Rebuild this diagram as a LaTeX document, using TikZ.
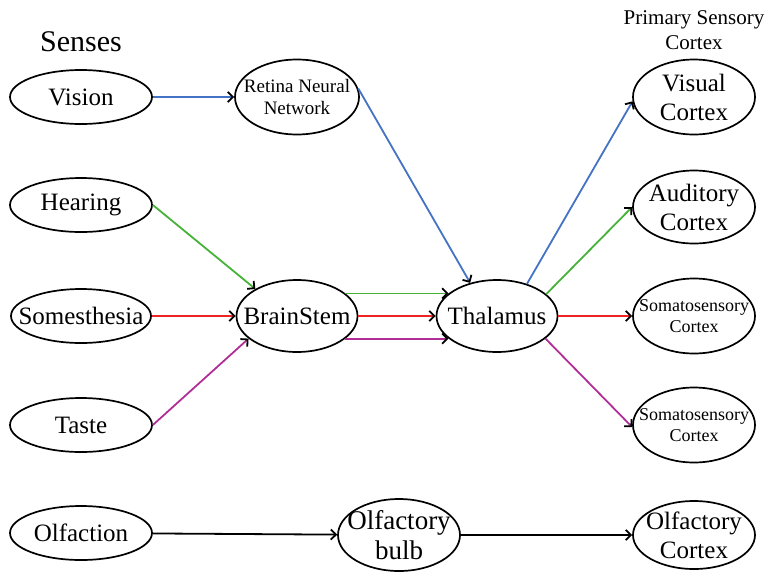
\documentclass[tikz,border=0pt]{standalone}
\usepackage{fontspec}
\setmainfont{Liberation Serif}
\usetikzlibrary{
	shapes.geometric,
	arrows.meta
}
\definecolor{pathblue}{RGB}{68,114,196}
\definecolor{pathgreen}{RGB}{70,178,56}
\definecolor{pathred}{RGB}{238,36,36}
\definecolor{pathpurple}{RGB}{176,46,150}
\tikzset{
	area/.style={
		ellipse, draw, line width=1.7pt, inner sep=-20pt, align=center,
		minimum width=122, minimum height=73,
		font=\fontsize{25}{29}\selectfont
	},
	sense/.style={
		area, minimum width=142, minimum height=54
	},
	small area/.style={
		area, font=\fontsize{19}{22}\selectfont
	},
	tiny area/.style={
		area, font=\fontsize{18}{21}\selectfont
	},
	every edge/.append style={
		-{Straight Barb[color=black]}, line width=1.8pt
	}
}

\begin{document}
\begin{tikzpicture}[x=1pt,y=-1pt]
		\useasboundingbox (0,0) rectangle (768,571);
		\node [font=\fontsize{30}{34}\selectfont] (senses) at (81,42) {Senses};
		\node [align=center,font=\fontsize{21}{25}\selectfont] (primary) at (694,30) {Primary Sensory\\Cortex};

		\draw
			node [sense]                    (vision)  at (81,97)  {Vision}
			node [sense]                    (hearing) at (81,205) {Hearing}
			node [sense,minimum width=140]  (somes)   at (81,316) {Somesthesia}
			node [sense]                    (taste)   at (81,425) {Taste}
			node [sense]                    (olfact)  at (81,533) {Olfaction}

			node [small area,minimum width=124,minimum height=75] (retina) at (297,97) {Retina Neural\\Network}
			node [area,minimum width=121,minimum height=72] (brainstem) at (297,316) {BrainStem}
			node [area,minimum width=121,minimum height=72] (thalamus)  at (497,316) {Thalamus}
			node [area,minimum height=72,font=\fontsize{27}{30}\selectfont] (bulb) at (399,535) {Olfactory\\bulb}

			node [area,minimum height=75]   (visual)  at (694,97)  {Visual\\Cortex}
			node [area]                     (audit)   at (694,207) {Auditory\\Cortex}
			node [tiny area,minimum height=75] (somato) at (694,316) {Somatosensory\\Cortex}
			node [tiny area,minimum height=75] (somatob) at (694,425) {Somatosensory\\Cortex}
			node [area,minimum height=68]   (olfcortex) at (694,535) {Olfactory\\Cortex}

			% vision
			(vision)       edge[pathblue]   (retina)
			(retina.8)     edge[pathblue]   (thalamus.129)
			(thalamus.47)  edge[pathblue]   (visual.184)
			% hearing
			(hearing.east) edge[pathgreen]  (brainstem.147)
			(brainstem.25) edge[pathgreen]  (thalamus.155)
			(thalamus.24)  edge[pathgreen]  (audit.west)
			% somesthesia
			(somes)        edge[pathred]    (brainstem)
			(brainstem)    edge[pathred]    (thalamus)
			(thalamus)     edge[pathred]    (somato)
			% taste
			(taste.east)   edge[pathpurple] (brainstem.205)
			(brainstem.-25) edge[pathpurple] (thalamus.205)
			(thalamus.-25) edge[pathpurple] (somatob.182)
			% olfaction
			(olfact)       edge             (bulb)
			(bulb)         edge             (olfcortex)
		;
	\end{tikzpicture}
\end{document}
